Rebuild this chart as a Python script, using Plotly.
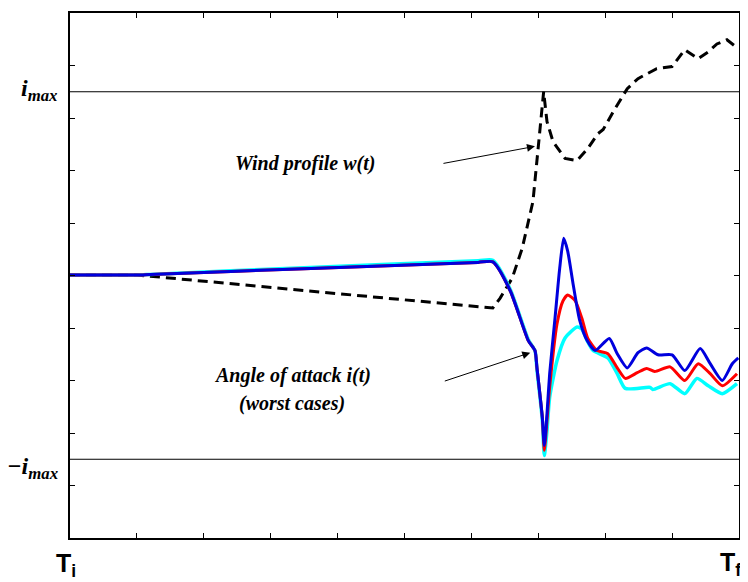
import plotly.graph_objects as go

# Angle of attack, worst cases (time in 0..10 between T_i and T_f, level in 0..10)
x_blue = [0, 1.0, 1.2, 3.5, 6.1, 6.32, 6.58, 6.85, 6.95, 6.98, 7.06, 7.09, 7.13, 7.17, 7.25, 7.32, 7.38, 7.44, 7.52,
          7.62, 7.73, 7.85, 8.06, 8.18, 8.33, 8.49, 8.62, 8.79, 9.00, 9.19, 9.42, 9.57, 9.75, 9.90, 9.99]
y_blue = [5.01, 5.01, 5.02, 5.13, 5.25, 5.26, 4.71, 3.76, 3.57, 3.24, 2.30, 1.76, 2.37, 3.13, 4.19, 5.14, 5.71, 5.46, 4.84,
          4.14, 3.76, 3.57, 3.80, 3.51, 3.24, 3.53, 3.62, 3.49, 3.49, 3.19, 3.61, 3.32, 3.00, 3.32, 3.43]

x_red = [0, 1.0, 1.2, 3.5, 6.1, 6.32, 6.58, 6.85, 6.95, 6.98, 7.06, 7.09, 7.13, 7.17, 7.28, 7.37, 7.44, 7.55, 7.65,
         7.74, 7.88, 8.04, 8.18, 8.30, 8.48, 8.62, 8.74, 8.97, 9.19, 9.39, 9.57, 9.75, 9.97]
y_red = [5.01, 5.01, 5.02, 5.13, 5.25, 5.26, 4.71, 3.76, 3.57, 3.24, 2.30, 1.67, 2.24, 2.87, 4.08, 4.52, 4.63, 4.52, 4.19,
         3.80, 3.57, 3.51, 3.24, 3.04, 3.15, 3.23, 3.17, 3.26, 3.00, 3.32, 3.13, 2.90, 3.13]

x_cyan = [0, 1.0, 1.2, 3.5, 6.1, 6.32, 6.58, 6.85, 6.95, 6.98, 7.06, 7.09, 7.13, 7.17, 7.28, 7.40, 7.58, 7.65, 7.73,
          7.82, 8.04, 8.18, 8.30, 8.67, 8.71, 8.97, 9.19, 9.37, 9.54, 9.75, 9.97]
y_cyan = [5.01, 5.01, 5.02, 5.15, 5.28, 5.29, 4.74, 3.78, 3.57, 3.20, 2.25, 1.57, 2.05, 2.68, 3.38, 3.81, 4.02, 3.98, 3.76,
          3.57, 3.43, 3.13, 2.85, 2.87, 2.83, 2.94, 2.75, 3.04, 2.90, 2.75, 2.94]

# Wind profile w(t)
x_wind = [0, 1.0, 6.32, 6.43, 6.61, 6.76, 6.92, 7.00, 7.06, 7.08, 7.13, 7.22, 7.40, 7.58, 7.74, 7.89,
          7.97, 8.12, 8.33, 8.49, 8.77, 9.00, 9.19, 9.39, 9.54, 9.67, 9.82, 9.94]
y_wind = [5.01, 5.01, 4.38, 4.57, 4.95, 5.52, 6.41, 7.46, 8.22, 8.50, 7.93, 7.55, 7.23, 7.19, 7.42, 7.70,
          7.78, 8.12, 8.56, 8.75, 8.94, 8.98, 9.30, 9.13, 9.26, 9.41, 9.49, 9.37]

i_max = 8.5
i_min = 1.5
x_ticks = list(range(0, 11))
y_ticks = list(range(0, 11))

fig = go.Figure()
fig.add_trace(go.Scatter(x=x_wind, y=y_wind, mode="lines",
                         line=dict(color="black", width=3, dash="10px,6px")))
fig.add_trace(go.Scatter(x=x_cyan, y=y_cyan, mode="lines",
                         line=dict(color="#00ffff", width=3.5, shape="spline", smoothing=0.6)))
fig.add_trace(go.Scatter(x=x_red, y=y_red, mode="lines",
                         line=dict(color="#ff0000", width=3, shape="spline", smoothing=0.6)))
fig.add_trace(go.Scatter(x=x_blue, y=y_blue, mode="lines",
                         line=dict(color="#0000dd", width=3, shape="spline", smoothing=0.6)))

for lv in (i_max, i_min):
    fig.add_shape(type="line", xref="paper", x0=0, x1=1, yref="y", y0=lv, y1=lv,
                  line=dict(color="black", width=1), layer="below")

serif_bi = dict(family="Liberation Serif", size=20, color="black", weight="bold", style="italic")
lab_font = dict(family="Liberation Serif", size=24, color="black", weight="bold", style="italic")
t_font = dict(family="Liberation Sans", size=25, color="black", weight="bold")

ann = [
    dict(x=3.51, y=7.13, text="<b><i>Wind profile w(t)</i></b>", showarrow=False, font=serif_bi),
    dict(x=3.32, y=3.09, text="<b><i>Angle of attack i(t)</i></b>", showarrow=False, font=serif_bi),
    dict(x=3.32, y=2.56, text="<b><i>(worst cases)</i></b>", showarrow=False, font=serif_bi),
    dict(x=6.95, y=7.46, ax=5.56, ay=7.13, axref="x", ayref="y", text="", showarrow=True,
         arrowhead=2, arrowsize=1.6, arrowwidth=1, arrowcolor="black"),
    dict(x=6.88, y=3.53, ax=5.58, ay=2.98, axref="x", ayref="y", text="", showarrow=True,
         arrowhead=2, arrowsize=1.6, arrowwidth=1, arrowcolor="black"),
    dict(xref="paper", yref="paper", x=-0.015, y=0.853, xanchor="right", yanchor="middle",
         text="<b><i>i<sub>max</sub></i></b>", showarrow=False, font=lab_font),
    dict(xref="paper", yref="paper", x=-0.015, y=0.133, xanchor="right", yanchor="middle",
         text="<b><i>\u2212i<sub>max</sub></i></b>", showarrow=False, font=lab_font),
    dict(xref="paper", yref="paper", x=-0.006, y=-0.017, xanchor="center", yanchor="top",
         text="<b>T<sub>i</sub></b>", showarrow=False, font=t_font),
    dict(xref="paper", yref="paper", x=1.004, y=-0.017, xanchor="right", yanchor="top",
         text="<b>T<sub>f</sub></b>", showarrow=False, font=t_font, borderpad=0),
]

axis_common = dict(showgrid=False, zeroline=False, showline=True, linecolor="black", linewidth=1.5,
                   mirror="ticks", ticks="inside", ticklen=5, tickwidth=1, tickcolor="black",
                   showticklabels=False)
# page body has an 8px margin; figure is sized so the plot box lands at 70..739 x 11..538
fig.update_layout(
    width=740, height=574,
    margin=dict(l=62, r=9, t=3, b=44),
    paper_bgcolor="white", plot_bgcolor="white",
    showlegend=False,
    xaxis=dict(range=[0, 10], tickvals=x_ticks, **axis_common),
    yaxis=dict(range=[0, 10], tickvals=y_ticks, **axis_common),
    annotations=ann,
)
fig.write_html("out.html")
